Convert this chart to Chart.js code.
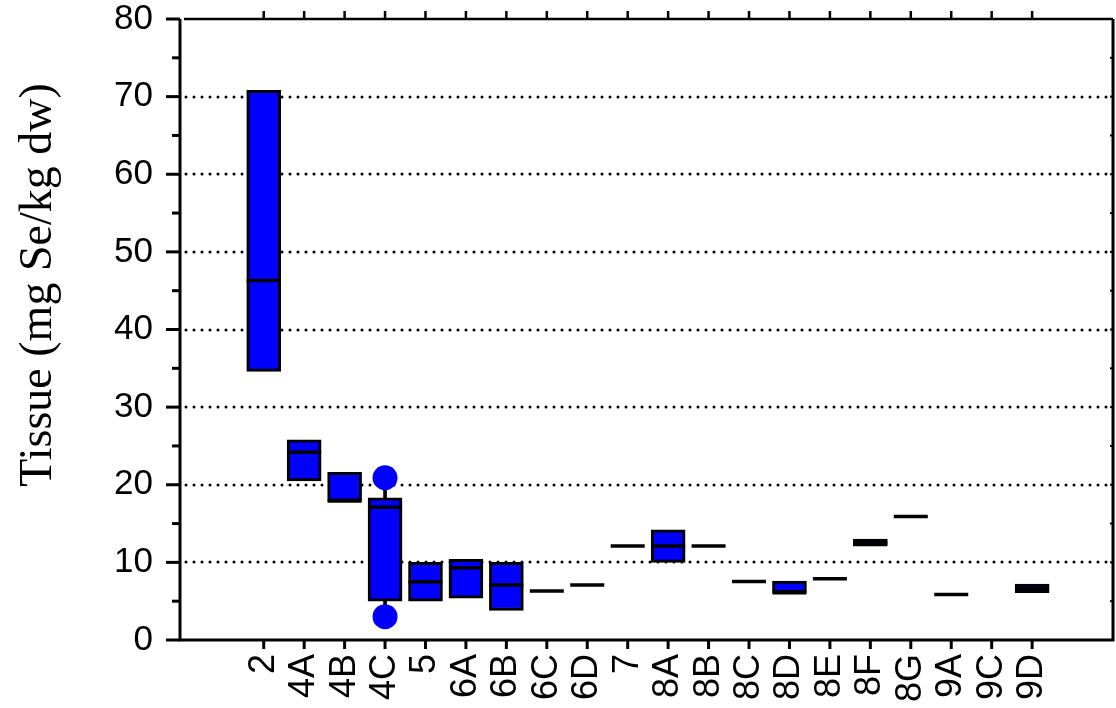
<!DOCTYPE html>
<html>
<head>
<meta charset="utf-8">
<script src="https://cdn.jsdelivr.net/npm/chart.js@4/dist/chart.umd.min.js"></script>
<style>
  html, body { margin: 0; padding: 0; background: #fff; }
  #wrap { width: 1116px; height: 708px; }
</style>
</head>
<body>
<div id="wrap"><canvas id="c" width="1116" height="708"></canvas></div>
<script>
// Sampling sites
const categories = ['2','4A','4B','4C','5','6A','6B','6C','6D','7','8A','8B','8C','8D','8E','8F','8G','9A','9C','9D'];
// Box bottoms / tops (mg Se/kg dw); null where only a single value exists
const boxLow  = [34.6, 20.5, 17.9, 5.0, 5.0, 5.4, 3.8, null, null, null, 10.0, null, null, 6.1, null, 12.1, null, null, null, 6.1];
const boxHigh = [70.8, 25.8, 21.6, 18.3, 10.0, 10.4, 10.0, null, null, null, 14.2, null, null, 7.6, null, 13.0, null, null, null, 7.2];
// Medians (or the single value for sites with one sample)
const medians = [46.3, 24.2, 17.9, 17.1, 7.5, 9.3, 7.1, 6.3, 7.1, 12.1, 12.1, 12.1, 7.55, 6.1, 7.9, 12.5, 15.9, 5.85, null, 6.6];
// Outliers at site 4C and their whiskers
const outlierSite = ['4C', '4C'];
const outlierValues = [20.9, 3.0];
const whiskerLow  = [18.3, 3.0];
const whiskerHigh = [20.9, 5.0];
// Y axis
const yTicks = [0, 10, 20, 30, 40, 50, 60, 70, 80];
const yTitle = 'Tissue (mg Se/kg dw)';

const BLUE = '#0000ff';

const boxData = categories.map((c, i) => boxLow[i] == null ? null : { x: i, y: [boxLow[i], boxHigh[i]] }).filter(Boolean);
const medianData = categories.map((c, i) => medians[i] == null ? null : { x: i, y: medians[i] }).filter(Boolean);
const outlierData = outlierValues.map((v, k) => ({ x: categories.indexOf(outlierSite[k]), y: v }));
const whiskerData = whiskerLow.map((lo, k) => ({ x: categories.indexOf(outlierSite[k]), y: [lo, whiskerHigh[k]] }));

// Keep the plot area fixed: the layout padding alone decides the margins
const noPad = s => { s.paddingLeft = 0; s.paddingRight = 0; s.paddingTop = 0; s.paddingBottom = 0; };

// Frame, tick marks and dotted grid drawn from the chart's scales
const framePlugin = {
  id: 'frame',
  beforeDatasetsDraw(chart) {
    const { ctx, chartArea: a, scales: { y } } = chart;
    ctx.save();
    ctx.strokeStyle = '#000';
    ctx.lineWidth = 3;
    ctx.lineCap = 'round';
    ctx.setLineDash([0, 8]);
    for (const v of yTicks) {
      if (v <= y.min || v >= y.max) continue;
      const py = Math.round(y.getPixelForValue(v));
      ctx.beginPath();
      ctx.moveTo(a.left + 6, py);
      ctx.lineTo(a.right - 2, py);
      ctx.stroke();
    }
    ctx.restore();
  },
  afterDatasetsDraw(chart) {
    const { ctx, chartArea: a, scales: { x, y } } = chart;
    ctx.save();
    ctx.strokeStyle = '#000';
    ctx.lineCap = 'butt';
    // frame
    ctx.lineWidth = 3;
    ctx.beginPath();
    ctx.moveTo(a.left, a.top);
    ctx.lineTo(a.left, a.bottom);
    ctx.lineTo(a.right, a.bottom);
    ctx.lineTo(a.right, a.top);
    ctx.stroke();
    ctx.lineWidth = 2.5;
    ctx.beginPath();
    ctx.moveTo(a.left + 4, a.top);
    ctx.lineTo(a.right, a.top);
    ctx.stroke();
    // left ticks: major every 10, minor every 5
    for (let v = y.min; v <= y.max; v += 5) {
      const py = y.getPixelForValue(v);
      const len = v % 10 === 0 ? 14 : 8;
      ctx.lineWidth = 3;
      ctx.beginPath();
      ctx.moveTo(a.left - len, py);
      ctx.lineTo(a.left, py);
      ctx.stroke();
      // short inward ticks on the right edge
      ctx.lineWidth = 2;
      ctx.beginPath();
      ctx.moveTo(a.right, py);
      ctx.lineTo(a.right - 3, py);
      ctx.stroke();
    }
    // category ticks, bottom and top, both outward
    categories.forEach((c, i) => {
      const px = x.getPixelForValue(i);
      ctx.lineWidth = 3;
      ctx.beginPath();
      ctx.moveTo(px, a.bottom);
      ctx.lineTo(px, a.bottom + 9);
      ctx.stroke();
      ctx.lineWidth = 2.5;
      ctx.beginPath();
      ctx.moveTo(px, a.top);
      ctx.lineTo(px, a.top - 8);
      ctx.stroke();
    });
    // y axis title
    ctx.fillStyle = '#000';
    ctx.font = '46px "Liberation Serif", "Times New Roman", serif';
    ctx.textAlign = 'center';
    ctx.textBaseline = 'alphabetic';
    ctx.translate(51, 285);
    ctx.rotate(-Math.PI / 2);
    ctx.fillText(yTitle, 0, 0);
    ctx.restore();
  }
};

new Chart(document.getElementById('c'), {
  type: 'bar',
  data: {
    datasets: [
      {
        type: 'bar',
        data: whiskerData,
        backgroundColor: '#000',
        borderWidth: 0,
        barThickness: 3,
        grouped: false,
        order: 4
      },
      {
        type: 'bar',
        data: boxData,
        backgroundColor: BLUE,
        borderColor: '#000',
        borderWidth: 3,
        borderSkipped: false,
        barThickness: 34,
        grouped: false,
        order: 3
      },
      {
        type: 'scatter',
        data: medianData,
        pointStyle: 'line',
        pointRadius: 17,
        borderColor: '#000',
        borderWidth: 3.5,
        order: 2
      },
      {
        type: 'scatter',
        data: outlierData,
        pointStyle: 'circle',
        pointRadius: 12.5,
        backgroundColor: BLUE,
        borderColor: BLUE,
        borderWidth: 0,
        order: 1
      }
    ]
  },
  options: {
    responsive: false,
    animation: false,
    events: [],
    layout: { autoPadding: false, padding: { top: 19, right: 3, left: 0, bottom: 0 } },
    plugins: { legend: { display: false }, tooltip: { enabled: false } },
    scales: {
      x: {
        type: 'linear',
        offset: false,
        min: -2.07,
        max: 21,
        grid: { display: false, drawTicks: false, offset: false },
        border: { display: false },
        afterBuildTicks: s => { s.ticks = categories.map((c, i) => ({ value: i })); },
        afterFit: s => { s.height = 68; noPad(s); },
        ticks: {
          autoSkip: false,
          minRotation: 90,
          maxRotation: 90,
          padding: 14,
          color: '#000',
          font: { family: '"Liberation Sans", Arial, sans-serif', size: 36 },
          callback: v => categories[v] ?? ''
        }
      },
      y: {
        type: 'linear',
        min: 0,
        max: 80,
        grid: { display: false, drawTicks: false },
        border: { display: false },
        afterBuildTicks: s => { s.ticks = yTicks.map(v => ({ value: v })); },
        afterFit: s => { s.width = 180; noPad(s); },
        ticks: {
          padding: 27,
          color: '#000',
          font: { family: '"Liberation Sans", Arial, sans-serif', size: 35 },
          callback: v => String(v)
        }
      }
    }
  },
  plugins: [framePlugin]
});
</script>
</body>
</html>
